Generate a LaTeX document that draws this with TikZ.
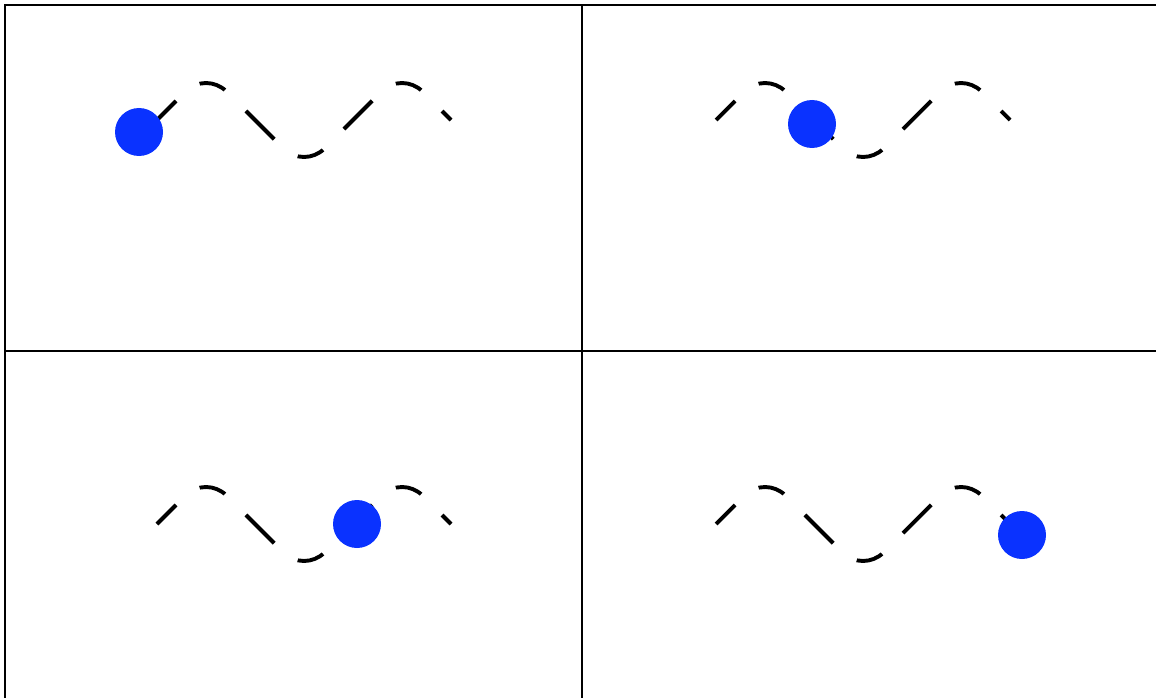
\documentclass[tikz,border=0pt]{standalone}
\usepackage[dvipsnames,svgnames,x11names]{xcolor}
\usepackage{tikz}
\usetikzlibrary{positioning}
\definecolor{ballblue}{RGB}{10,50,255}
\tikzstyle{panel} = [draw=black, line width=2.2pt]
\tikzstyle{wave} = [line width=3.9pt, rounded corners=29pt,
  dash pattern=on 40pt off 29.6pt on 27pt off 29.6pt, dash phase=13pt]
\tikzstyle{ball} = [circle, fill=ballblue, minimum size=48pt, inner sep=0pt]

\begin{document}
\begin{tikzpicture}[x=1pt, y=-1pt]

  \clip (0,0) rectangle (1156,698);
  \useasboundingbox (0,0) rectangle (1156,698);

  % panels
  \draw[panel] (5,5) rectangle ++(577,346);
  \draw[panel] (582,5) rectangle ++(577,346);
  \draw[panel] (5,351) rectangle ++(577,380);
  \draw[panel] (582,351) rectangle ++(577,380);

  % one wave per panel
  \foreach \x/\y in {157/120, 716/120, 157/524, 716/524}
    \draw[wave] (\x,\y) -- ++(49,-49) -- ++(98,98) -- ++(98,-98) -- ++(49,49);

  % ball moving along
  \node[ball] (ball1) at (139,132) {};
  \node[ball] (ball2) at (812,124) {};
  \node[ball] (ball3) at (357,524) {};
  \node[ball] (ball4) at (1022,535) {};

\end{tikzpicture}
\end{document}
